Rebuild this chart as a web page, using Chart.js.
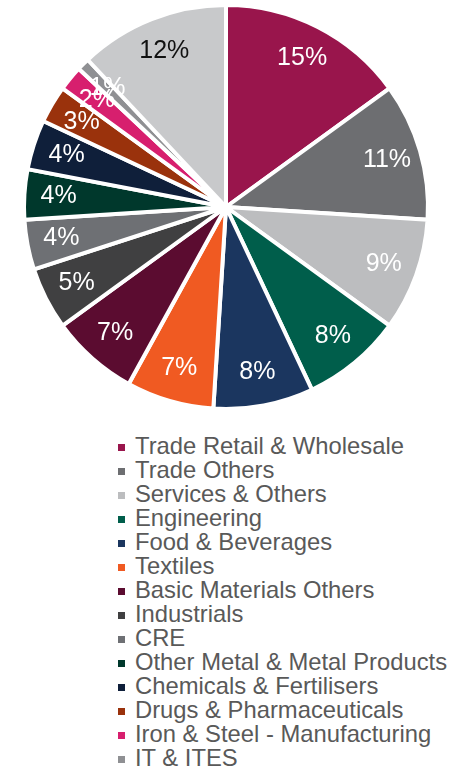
<!DOCTYPE html>
<html>
<head>
<meta charset="utf-8">
<title>Exposure by Sector</title>
<script src="https://cdn.jsdelivr.net/npm/chart.js@4"></script>
<style>
    html, body {
        margin: 0;
        padding: 0;
        background: #fff;
        overflow: hidden;
    }
    body {
        width: 458px;
        height: 769px;
        font-family: "Liberation Sans", Arial, sans-serif;
    }
    #pieWrap {
        position: relative;
        width: 458px;
        height: 414px;
    }
    #sectorLegend {
        list-style: none;
        margin: 20px 0 0 118px;
        padding: 0;
        font-size: 23.8px;
        line-height: 24px;
        color: #595959;
    }
    #sectorLegend li {
        white-space: nowrap;
    }
    #sectorLegend .box {
        display: inline-block;
        width: 7px;
        height: 7px;
        margin-right: 10px;
        vertical-align: 3px;
    }
</style>
</head>
<body>
<div id="pieWrap"><canvas id="sectorPie"></canvas></div>
<ul id="sectorLegend"></ul>

<script>
// Sector names, in slice order (clockwise from 12 o'clock)
const sectors = [
    'Trade Retail & Wholesale',
    'Trade Others',
    'Services & Others',
    'Engineering',
    'Food & Beverages',
    'Textiles',
    'Basic Materials Others',
    'Industrials',
    'CRE',
    'Other Metal & Metal Products',
    'Chemicals & Fertilisers',
    'Drugs & Pharmaceuticals',
    'Iron & Steel - Manufacturing',
    'IT & ITES',
    'Others'
];

// Share of book, in percent
const shares = [15, 11, 9, 8, 8, 7, 7, 5, 4, 4, 4, 3, 2, 1, 12];

const sectorColors = [
    '#99154C', '#6D6E71', '#BCBDBF', '#005E4B', '#1B365F',
    '#F05A22', '#5B0C30', '#404041', '#6E7074', '#00382C',
    '#0F1F3A', '#9A320C', '#D71F6E', '#8F9093', '#C8C9CB'
];

// Dark text only where the slice is light enough
const labelColors = shares.map((v, i) => i === shares.length - 1 ? '#111111' : '#ffffff');

// Draws "NN%" inside each slice
const sliceLabels = {
    id: 'sliceLabels',
    afterDatasetsDraw(chart) {
        const ctx = chart.ctx;
        const meta = chart.getDatasetMeta(0);
        ctx.save();
        ctx.font = '25px "Liberation Sans", Arial, sans-serif';
        ctx.textAlign = 'center';
        ctx.textBaseline = 'middle';
        meta.data.forEach((arc, i) => {
            const p = arc.getProps(['x', 'y', 'startAngle', 'endAngle', 'outerRadius'], true);
            const mid = (p.startAngle + p.endAngle) / 2;
            const r = p.outerRadius * 0.83;
            ctx.fillStyle = labelColors[i];
            ctx.fillText(shares[i] + '%', p.x + Math.cos(mid) * r, p.y + Math.sin(mid) * r);
        });
        ctx.restore();
    }
};

const chart = new Chart(document.getElementById('sectorPie'), {
    type: 'pie',
    data: {
        labels: sectors,
        datasets: [{
            data: shares,
            backgroundColor: sectorColors,
            borderColor: '#ffffff',
            borderWidth: 4
        }]
    },
    options: {
        responsive: true,
        maintainAspectRatio: false,
        animation: false,
        layout: {
            padding: { left: 22, right: 28, top: 3, bottom: 3 }
        },
        plugins: {
            legend: { display: false },
            tooltip: { enabled: false }
        }
    },
    plugins: [sliceLabels]
});

// Legend list under the pie, one sector per line
const legendList = document.getElementById('sectorLegend');
Chart.overrides.pie.plugins.legend.labels.generateLabels(chart).forEach(item => {
    const li = document.createElement('li');
    const box = document.createElement('span');
    box.className = 'box';
    box.style.background = item.fillStyle;
    li.appendChild(box);
    li.appendChild(document.createTextNode(item.text));
    legendList.appendChild(li);
});
</script>
</body>
</html>
